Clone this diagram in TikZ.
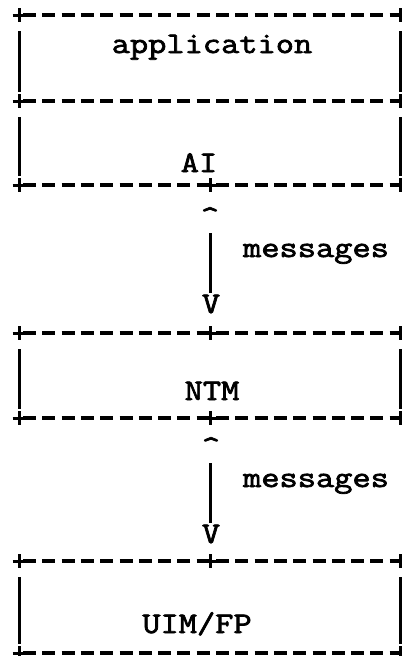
\documentclass[tikz,border=0pt]{standalone}
\usepackage{fontspec}
\newfontfamily\asciimono{Latin Modern Mono}[AutoFakeBold=2.4, FakeStretch=1.18]
\begin{document}
\begin{tikzpicture}[x=1pt,y=-1pt,
  border/.style={line width=3.4pt, dash pattern=on 13pt off 6.3pt, dash phase=-4pt},
  side/.style={line width=3pt},
  lbl/.style={font=\asciimono\bfseries\fontsize{30}{30}\selectfont, inner sep=0pt, anchor=base},
  pics/plusmark/.style={code={\draw[side] (-6.5,0) -- (6.5,0) (0,-7) -- (0,7);}},
  pics/endmark/.style={code={\draw[side] (-6.5,0) -- (0,0) (0,-7) -- (0,7);}}]
\useasboundingbox (0,0) rectangle (403,656);

% horizontal borders
\foreach \yy in {15,101,185,333,418,561,653} {
  \coordinate (L\yy) at (19,\yy);
  \coordinate (R\yy) at (400,\yy);
  \draw[border] (L\yy) -- (R\yy);
  \pic at (L\yy) {plusmark};
  \pic at (R\yy) {endmark};
}
% middle plus marks
\foreach \yy in {185,333,418,561} {
  \coordinate (M\yy) at (210,\yy);
  \pic at (M\yy) {plusmark};
}
% vertical sides
\foreach \a/\b in {15/101,101/185,333/418,561/653} {
  \draw[side] ([yshift=-16pt]L\a) -- ([yshift=9pt]L\b);
  \draw[side] ([yshift=-16pt]R\a) -- ([yshift=9pt]R\b);
}

% labels
\node[lbl] (app) at (212,53) {application};
\node[lbl] (ai) at (199,172) {AI};
\node[lbl] (ntm) at (212,400) {NTM};
\node[lbl] (uim) at (197,633) {UIM/FP};
\node[lbl] (msg1) at (316,257) {messages};
\node[lbl] (msg2) at (316,487) {messages};

% arrows
\node[lbl, anchor=north] (car1) at (210,207) {\^{}};
\node[lbl] (v1) at (211,313) {V};
\coordinate (s1) at (210,233);
\coordinate (e1) at (210,293);
\draw[side] (s1) -- (e1);

\node[lbl, anchor=north] (car2) at (211,437) {\^{}};
\node[lbl] (v2) at (211,543) {V};
\coordinate (s2) at (210,463);
\coordinate (e2) at (210,523);
\draw[side] (s2) -- (e2);
\end{tikzpicture}
\end{document}
